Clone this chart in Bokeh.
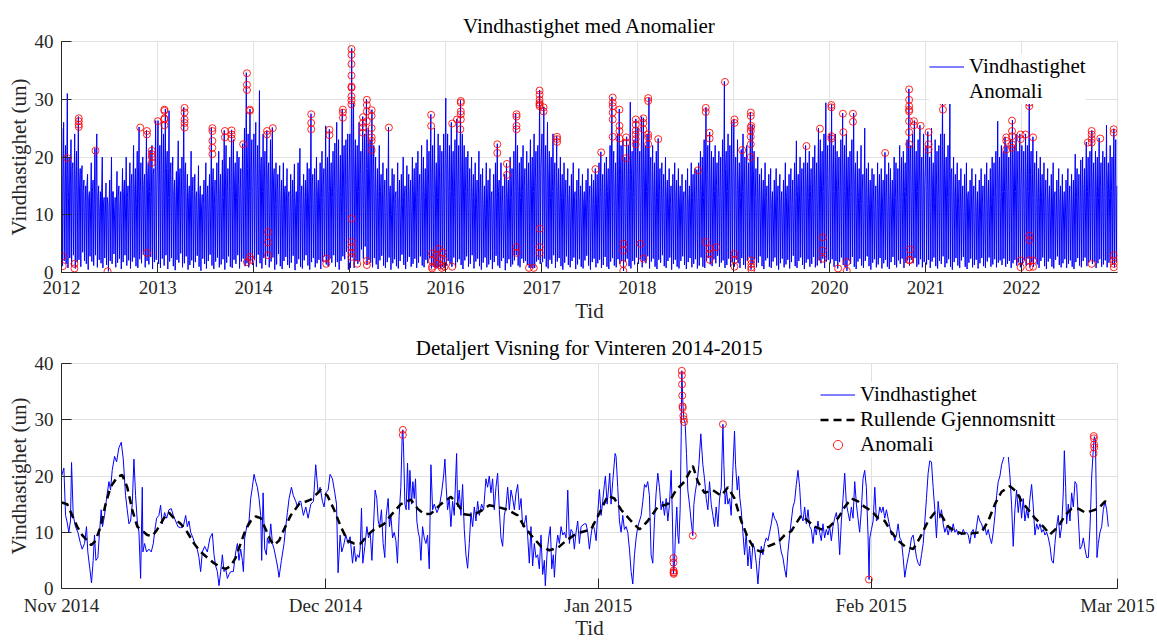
import pandas as pd
from bokeh.plotting import figure
from bokeh.layouts import column
from bokeh.models import (ColumnDataSource, FixedTicker, Legend, LegendItem,
                          DatetimeTickFormatter, Range1d)
from bokeh.embed import file_html
from bokeh.resources import INLINE

FONT = "Liberation Serif"

# ---------------- Top chart data: weekly peak / low / typical level ----------------
years = list(range(2012, 2023))
peak_2012 = [25,26,22,31,20,23,19,24,21,27,18,18.5,16,15,17,14,19,16,21.5,24,15,14,20,13,15.5,12,16,20,14,13,17.5,15,14,18,16,20,15,19,17,22,18,21,25.2,19,20,17,24.6,19,21.2,22,18,26.3]
peak_2013 = [26.3,22,26,24,28.3,21,28,19,20,16,17.5,22.8,18,20,28.6,19,17,15,21,16.5,17,14,18.5,15,13.5,16,19,15,17,25.1,18,16,19,21,17,19.5,24.6,22,18,20,24.7,23,19,21,20,18,22.3,25,34.6,24,28.3,23]
peak_2014 = [24,26,22,31.5,20,24,21,24.6,19,23,25.1,18,19,17,18.5,16,19,15,18,14,17,16,18.8,14,19,21.5,15,17,16,19,18,27.5,17,18,20,16,19,21,18,25.4,20,24.8,19,21,22.4,26,23,20.3,28.3,22,23,24]
peak_2015 = [24,38.8,29.3,23,22,26,21,27,24,30,25,23,28.2,22,20,18,22,17,19,16,18,25.2,15,18,17,14,19,16,17,20,15,18.5,17,16,20,18,19,21,17,22,20,18,23,21,27.4,22,25,19,24,22,21,24]
peak_2016 = [30.2,24,22,26,21,23,26.6,22,29.8,24,22,20,21,18,20,17,19,16,21,17,18,15,19,16,18,14,17,19,22.3,16,19,15,17,18.9,16,20,18,21,27.5,22,19,20,22,18,21,19,23,20,24,21,22,31.6]
peak_2017 = [24,28.7,22,26,21,20,24,19,23.6,18,20,17,19,16,18,15,17,19,14,16,18,15,17,14,16,18,15,17,16,18,17,19,20.9,17,19,20,18,22,30.4,21,19,24,28.3,22,23,20,23.5,22,29.5,21,23,26.6]
peak_2018 = [25,21,27,26.8,22,24,30.3,20,22,19,21,23.2,18,19,17,20,16,18,15,17,19,16,18,15,17,14,16,18,15,19,17,18,17.8,19,21,20,23,28.6,22,24.3,21,20,22,19,21,20,23,33.1,21,24,22,26]
peak_2019 = [26.6,20,23,19,21.3,24,20,22,19,27.8,25.5,21,18,20,17,18,16,19,15,17,18,14,16,18,15,17,14,16,19,15,17,18,16,19,22.8,17,20,18,19,22,19,21,18,20,22,19,25,23,21,24,29.4,22]
peak_2020 = [24,29.1,22,24,21,20,23,27.6,22,24,20,21,23,27.6,19,21,18,22,17,25,18,19,16,18,17,15,19,17,18,16,20.8,17,19,18,16,20,19,18,22,20,21,19,23,31.8,22,24,26.3,21,23,25.5,20,24]
peak_2021 = [22,24.4,20,25,19,23,21,22,24,30.4,24,20,22,31.2,18,20,17,19,16,18,15,17,19,14,16,18,15,17,14,16,18,15,17,19,16,18,20,19,21,26.2,20,22,21,23.5,22,20,23,26.4,22,24,21,24]
peak_2022 = [22,21,24,22,30.3,21,23.5,19,21,18,20,17,19,16,18,15,17,19,14,16,18,15,17,14,16,18,15,17,16,20.5,18,17,19.5,20,18,22.6,20,21,24.6,19,21,20,23.3,19,21,20,25.5,19,22,20,24.9,23]

low_2012 = [1.1,2.0,1.5,0.8,2.5,1.2,3.0,0.7,1.8,2.2,1.0,3.5,2.0,1.5,0.5,2.8,1.9,1.2,3.0,0.9,2.2,1.6,0.8,2.5,1.3,0.2,2.0,1.5,3.2,0.9,1.7,2.4,0.6,1.8,3.0,1.2,2.1,0.7,1.9,2.6,1.1,0.8,2.3,1.6,3.1,0.9,2.0,1.4,2.7,0.6,1.8,2.2]
low_2013 = [1.5,0.8,2.4,1.2,3.0,0.6,1.9,2.5,1.1,0.4,2.2,1.7,3.3,0.9,1.6,2.8,0.5,1.3,2.1,0.8,1.8,2.9,1.0,0.3,2.4,1.5,0.7,2.0,3.1,1.2,0.6,1.9,2.6,0.9,1.4,2.3,0.5,1.7,2.8,1.0,0.8,2.2,1.5,3.0,0.7,1.9,2.4,1.1,1.6,0.9,2.0,1.3]
low_2014 = [2.2,1.0,3.1,1.6,0.7,2.5,1.3,2.8,0.9,1.9,2.6,0.5,1.4,3.2,1.1,0.6,2.0,2.7,1.3,0.8,1.7,2.9,0.4,1.5,2.3,1.0,0.7,2.1,3.0,1.2,0.5,1.8,2.5,0.9,1.6,2.2,0.6,1.9,2.8,1.4,1.1,2.4,1.7,3.0,1.0,1.8,0.5,2.0,2.8,2.3,3.6,0.5]
low_2015 = [0.8,2.6,0.8,2.0,1.5,2.0,4.0,2.4,4.5,1.3,2.2,1.7,0.9,2.5,1.4,0.6,2.1,2.9,1.2,0.8,1.8,2.6,0.5,1.6,2.3,1.1,0.7,2.0,3.1,1.3,0.6,1.9,2.7,1.0,1.5,2.4,0.8,1.7,2.8,1.2,0.9,2.2,1.6,2.5,0.7,1.0,0.8,0.7,0.9,0.7,1.0,0.8]
low_2016 = [1.2,2.0,1.5,1.0,2.6,0.9,1.8,2.3,1.3,0.6,2.1,2.8,1.0,1.5,3.0,0.7,1.9,2.4,1.1,0.5,1.7,2.6,0.9,1.4,2.2,0.6,1.8,2.9,1.2,0.8,2.0,2.5,0.4,1.6,2.3,1.0,1.4,2.1,3.0,1.2,0.9,2.4,1.7,2.0,1.3,0.8,0.8,0.7,0.8,1.9,2.2,1.5]
low_2017 = [1.8,2.4,1.0,0.7,2.2,1.5,3.0,0.8,1.9,2.5,1.1,0.5,1.7,2.8,1.3,0.9,2.0,2.6,0.6,1.4,2.3,1.0,0.7,2.1,2.9,1.2,0.5,1.8,2.4,0.9,1.6,2.2,0.8,1.3,2.7,1.0,0.6,1.9,2.5,1.2,0.9,2.3,1.5,2.0,0.3,1.8,2.4,1.1,0.7,2.0,1.4,2.6]
low_2018 = [1.5,2.3,0.9,2.0,1.6,2.8,0.7,1.9,2.4,1.0,0.6,2.2,1.7,3.0,1.1,0.8,2.0,2.6,0.5,1.5,2.2,1.0,0.7,2.0,2.8,1.3,0.6,1.8,2.5,0.9,1.5,2.3,0.7,1.2,2.6,1.0,0.8,2.0,2.5,1.4,1.1,2.3,1.6,2.9,1.0,1.7,2.1,0.8,1.3,2.4,1.0,1.8]
low_2019 = [1.0,2.2,1.6,0.8,2.5,1.3,0.7,2.0,2.7,0.5,1.5,2.3,0.9,1.7,2.8,1.1,0.6,2.1,2.5,1.0,0.8,1.9,2.6,1.2,0.5,1.6,2.4,0.9,1.4,2.2,0.7,1.8,2.9,1.1,0.8,2.0,2.6,1.3,0.6,1.7,2.3,1.0,1.5,2.7,0.9,1.2,2.1,1.6,2.4,0.8,1.9,2.2]
low_2020 = [1.6,2.3,1.0,2.0,0.7,1.8,2.6,1.3,0.9,0.3,2.1,1.5,2.7,1.0,0.6,1.9,2.4,1.2,0.8,2.0,2.8,1.1,0.5,1.7,2.3,0.9,1.4,2.5,0.7,1.6,2.2,1.0,0.6,1.8,2.7,1.3,0.9,2.1,1.5,2.4,0.8,1.7,2.1,1.2,2.2,1.6,2.5,1.0,1.4,2.3,0.9,1.8]
low_2021 = [1.4,2.2,0.8,1.9,2.6,1.1,0.7,2.0,1.5,2.8,0.9,1.6,2.3,1.0,0.5,1.8,2.5,1.2,0.8,2.1,2.7,1.0,0.6,1.7,2.4,0.9,1.3,2.2,0.7,1.6,2.5,1.1,0.8,1.9,2.6,1.0,1.4,2.3,0.9,1.7,2.1,1.3,2.4,1.0,1.5,2.0,0.8,1.6,2.2,1.2,1.8,0.9]
low_2022 = [1.5,2.1,1.2,2.4,0.9,1.8,1.0,2.3,1.4,0.8,2.0,2.6,1.1,0.6,1.9,2.4,1.0,0.7,2.2,2.8,1.3,0.9,1.6,2.3,0.8,1.5,2.1,1.0,0.6,1.8,2.5,1.2,0.9,2.0,2.6,1.1,1.7,2.2,1.5,1.9,0.8,1.6,2.3,1.0,1.4,2.1,0.9,1.7,2.2,1.3,0.9,1.8]

mid_2012 = [16,14,17,13,15,18,14,16,13,15,17,14,12,15,13,11,14,12,15,13,11,14,12,10,13,11,12,14,10,12,13,11,12,14,11,13,12,15,13,14,12,16,14,13,15,12,16,14,13,17,15,14]
mid_2013 = [15,17,14,16,18,13,17,15,14,12,15,16,13,14,17,12,13,11,14,12,13,10,13,11,12,10,13,12,11,15,12,13,11,14,12,13,15,14,12,15,14,16,13,15,14,13,16,15,18,14,17,15]
mid_2014 = [17,15,16,18,14,16,15,17,13,15,16,12,14,13,12,11,14,12,13,10,12,13,11,12,14,13,11,12,13,11,12,15,12,13,14,12,13,15,13,16,14,15,13,14,16,15,14,13,16,15,14,16]
mid_2015 = [16,19,17,15,14,17,15,16,14,18,15,16,17,14,13,12,14,11,13,12,11,14,10,12,13,11,12,10,12,13,11,12,13,11,14,12,13,15,12,14,13,12,15,14,16,14,15,13,16,14,13,16]
mid_2016 = [18,15,14,16,13,15,16,14,17,15,14,13,14,12,13,11,12,11,14,12,11,10,12,11,13,10,12,13,14,11,12,10,12,13,11,13,12,14,16,14,13,14,15,12,14,13,15,14,16,14,15,18]
mid_2017 = [15,17,14,16,13,14,15,12,14,12,13,11,13,11,12,10,12,13,10,11,12,10,12,11,12,13,10,12,11,12,11,13,14,12,13,14,12,15,17,14,13,16,17,14,15,13,15,14,17,13,15,16]
mid_2018 = [16,14,17,16,14,15,18,13,14,12,13,14,12,13,11,13,11,12,10,12,13,11,12,10,12,11,10,12,11,13,12,13,12,13,14,13,15,17,14,15,13,14,15,13,14,13,15,18,14,15,14,16]
mid_2019 = [16,13,15,13,14,15,13,14,12,17,16,13,12,13,11,12,11,13,10,12,12,10,11,12,10,12,10,11,13,10,12,12,11,13,14,12,13,12,13,14,13,14,12,13,15,13,16,15,14,15,17,14]
mid_2020 = [15,17,14,15,14,13,15,16,14,15,13,14,15,16,12,13,12,14,11,14,12,12,11,12,11,10,13,11,12,11,13,11,12,12,11,13,12,12,14,13,14,13,15,18,14,15,16,14,15,16,13,15]
mid_2021 = [14,15,13,16,12,15,13,14,15,17,15,13,14,17,12,13,11,12,11,12,10,11,13,10,11,12,10,11,10,11,12,10,11,12,11,12,13,12,14,16,13,14,14,15,14,13,15,16,14,15,13,15]
mid_2022 = [14,13,15,14,17,13,15,12,13,12,13,11,12,11,12,10,11,13,10,11,12,10,11,10,11,12,10,11,11,13,12,11,13,13,12,14,13,14,15,13,14,13,15,12,14,13,16,13,14,13,15,15]

peaks_all = [peak_2012, peak_2013, peak_2014, peak_2015, peak_2016, peak_2017,
             peak_2018, peak_2019, peak_2020, peak_2021, peak_2022]
lows_all = [low_2012, low_2013, low_2014, low_2015, low_2016, low_2017,
            low_2018, low_2019, low_2020, low_2021, low_2022]
mids_all = [mid_2012, mid_2013, mid_2014, mid_2015, mid_2016, mid_2017,
            mid_2018, mid_2019, mid_2020, mid_2021, mid_2022]

# anomalies in the full series (decimal year, speed)
anom_year = [2012.014,2012.014,2012.06,2012.135,2012.135,2012.18,2012.18,2012.18,2012.18,2012.354,2012.48,2012.82,2012.89,2012.89,2012.89,2012.94,2012.94,2012.94,2012.94,
             2013.0,2013.07,2013.07,2013.07,2013.07,2013.07,2013.28,2013.28,2013.28,2013.28,2013.28,2013.57,2013.57,2013.57,2013.57,2013.57,2013.70,2013.70,2013.77,2013.77,2013.77,2013.89,2013.93,2013.93,2013.93,2013.93,2013.96,2013.96,2013.96,2013.97,
             2014.14,2014.14,2014.15,2014.15,2014.15,2014.20,2014.60,2014.60,2014.60,2014.757,2014.757,2014.79,2014.79,2014.93,2014.93,2014.93,
             2015.02,2015.02,2015.02,2015.02,2015.02,2015.02,2015.02,2015.02,2015.02,2015.02,2015.02,2015.02,2015.02,2015.02,2015.08,2015.14,2015.14,2015.14,2015.14,2015.18,2015.18,2015.18,2015.18,2015.18,2015.18,2015.23,2015.23,2015.23,2015.23,2015.23,2015.23,2015.41,2015.85,2015.85,2015.86,2015.86,2015.86,2015.86,2015.90,2015.91,2015.93,2015.94,2015.95,2015.96,2015.97,2015.98,2015.99,
             2016.07,2016.07,2016.12,2016.16,2016.16,2016.16,2016.16,2016.16,2016.155,2016.54,2016.54,2016.64,2016.64,2016.74,2016.74,2016.74,2016.74,2016.74,2016.74,2016.87,2016.92,2016.98,2016.98,2016.98,2016.98,2016.98,2016.98,2016.98,2016.98,2016.98,
             2017.02,2017.02,2017.16,2017.16,2017.16,2017.56,2017.62,2017.74,2017.74,2017.74,2017.74,2017.74,2017.74,2017.81,2017.81,2017.81,2017.81,2017.85,2017.85,2017.85,2017.85,2017.88,2017.88,2017.88,2017.98,2017.98,2017.98,2017.98,2017.98,2017.98,
             2018.03,2018.06,2018.06,2018.06,2018.06,2018.11,2018.11,2018.11,2018.11,2018.11,2018.215,2018.63,2018.71,2018.71,2018.71,2018.75,2018.75,2018.75,2018.75,2018.75,2018.82,2018.91,
             2019.01,2019.01,2019.01,2019.01,2019.01,2019.09,2019.18,2019.18,2019.18,2019.18,2019.18,2019.18,2019.18,2019.185,2019.185,2019.185,2019.185,2019.185,2019.76,2019.90,2019.93,2019.93,2019.93,
             2020.02,2020.02,2020.02,2020.02,2020.09,2020.14,2020.145,2020.18,2020.18,2020.245,2020.245,2020.58,2020.83,2020.83,2020.83,2020.83,2020.83,2020.83,2020.83,2020.83,2020.83,2020.84,2020.84,2020.88,2020.88,2020.95,
             2021.03,2021.03,2021.03,2021.18,2021.18,2021.18,2021.18,2021.25,2021.84,2021.84,2021.84,2021.90,2021.90,2021.90,2021.90,2021.90,2021.99,2021.99,2021.99,2021.99,
             2022.04,2022.08,2022.08,2022.08,2022.08,2022.08,2022.08,2022.08,2022.08,2022.12,2022.12,2022.12,2022.69,2022.73,2022.73,2022.73,2022.73,2022.73,2022.82,2022.96,2022.96,2022.96,2022.96,2022.96,2022.96]
anom_speed = [2.8,1.1,19.8,1.5,0.7,26.7,26.2,25.6,25.2,21.1,0.2,25.1,24.5,23.9,3.4,21.1,20.5,20.0,19.0,
              26.2,28.2,28.0,26.7,26.5,25.5,28.5,27.7,26.5,25.9,25.1,25.0,24.5,22.8,21.6,20.5,24.5,23.4,24.6,23.9,23.2,22.2,34.5,32.5,31.6,1.8,28.2,28.0,2.7,2.2,
              24.5,23.9,7.0,5.2,3.0,25.0,27.4,25.9,24.8,2.4,1.5,24.7,23.8,28.2,27.7,26.8,
              38.7,37.7,36.1,34.1,32.2,32.0,30.5,29.8,29.1,9.3,5.3,4.4,3.4,2.7,1.5,26.9,25.9,25.1,24.2,29.9,29.0,27.9,26.2,2.0,1.3,28.1,27.1,25.0,23.4,22.8,21.2,25.1,27.3,25.4,3.3,2.0,1.0,0.7,3.0,1.5,4.1,2.5,1.2,0.8,3.5,2.2,1.0,
              25.8,1.0,26.5,29.7,29.4,27.9,27.4,26.5,24.8,22.2,20.7,18.8,16.9,27.4,27.0,25.4,24.8,4.4,3.4,0.8,0.8,31.5,30.8,29.9,29.4,29.1,28.8,7.6,4.4,3.4,
              28.6,27.9,23.5,23.1,22.6,17.9,20.8,30.3,29.4,28.8,27.7,26.5,23.5,28.2,25.4,24.5,23.2,5.0,3.8,1.5,0.3,23.4,22.5,19.8,26.5,25.6,24.6,23.9,23.1,22.2,
              5.0,26.7,25.9,24.8,2.4,30.2,29.7,23.9,23.4,22.2,23.1,17.7,28.5,27.8,5.3,24.2,23.2,4.1,3.3,2.2,4.4,33.0,
              26.5,25.9,3.2,2.2,1.0,21.2,27.7,27.1,25.1,24.5,23.5,22.2,20.0,25.4,2.1,1.5,0.9,0.5,21.9,24.9,6.1,3.8,2.4,
              29.0,28.6,23.6,23.2,0.7,27.5,24.3,1.8,0.3,27.5,26.1,20.7,31.7,29.9,28.8,28.2,27.9,26.2,24.3,22.2,2.1,4.0,2.2,26.2,25.5,25.4,
              24.3,22.2,21.3,30.3,29.9,29.5,28.2,31.1,23.4,22.8,21.3,26.3,24.5,23.6,22.2,21.6,23.9,23.1,2.1,0.9,
              23.9,30.2,29.9,29.4,28.8,6.4,5.6,2.1,0.9,23.4,2.1,1.0,22.5,24.5,23.9,23.1,22.5,1.5,23.2,24.8,24.2,3.0,2.1,1.5,0.9]

top_ticks = ["2012", "2013", "2014", "2015", "2016", "2017", "2018", "2019", "2020", "2021", "2022"]
y_ticks = [0, 10, 20, 30, 40]

# ---------------- Bottom chart data: winter 2014-2015 (days since 1 Nov 2014) ----------------
detail_day = [0.00,0.27,0.46,0.64,0.83,1.02,1.14,1.33,1.59,1.86,2.16,2.35,2.62,2.84,2.99,3.22,3.41,3.60,3.75,3.91,4.13,4.32,4.51,4.66,4.89,5.12,5.39,5.57,5.76,6.03,6.26,6.52,6.79,7.02,7.28,7.47,7.66,7.85,8.04,8.23,8.42,8.61,8.80,8.99,9.18,9.25,9.44,9.67,9.94,10.20,10.43,10.62,10.81,11.07,11.26,11.45,11.72,11.95,12.21,12.48,12.70,12.97,13.23,13.54,13.84,14.11,14.30,14.49,14.68,14.94,15.24,15.43,15.62,15.81,16.00,16.27,16.57,16.87,17.14,17.33,17.52,17.71,17.90,18.09,18.28,18.47,18.66,18.85,19.04,19.23,19.53,19.80,19.99,20.17,20.36,20.55,20.67,20.82,21.05,21.31,21.50,21.69,21.88,22.07,22.26,22.45,22.64,22.75,22.91,23.09,23.28,23.40,23.59,23.78,23.97,24.16,24.54,24.72,24.99,25.29,25.48,25.67,25.86,26.13,26.35,26.62,26.81,27.00,27.19,27.49,27.76,28.02,28.33,28.63,28.89,29.16,29.39,29.65,29.84,30.03,30.30,30.52,30.79,31.06,31.25,31.43,31.66,31.85,32.04,32.31,32.57,32.80,33.07,33.26,33.44,33.63,33.82,33.94,34.09,34.24,34.47,34.70,34.89,35.08,35.27,35.45,35.64,35.83,35.99,36.14,36.36,36.55,36.74,36.90,37.12,37.27,37.43,37.62,37.81,38.00,38.18,38.37,38.56,38.72,38.79,38.87,39.02,39.17,39.32,39.47,39.59,39.78,39.93,40.08,40.23,40.38,40.54,40.69,40.84,41.03,41.22,41.41,41.60,41.79,41.98,42.17,42.36,42.66,42.93,43.19,43.42,43.57,43.72,43.87,44.06,44.25,44.44,44.63,44.90,45.01,45.20,45.39,45.58,45.77,45.96,46.15,46.34,46.53,46.72,46.91,47.10,47.29,47.48,47.74,47.97,48.23,48.42,48.61,48.80,48.99,49.18,49.37,49.56,49.75,49.94,50.13,50.32,50.51,50.70,50.89,51.08,51.27,51.46,51.65,51.84,52.03,52.22,52.41,52.60,52.79,52.97,53.16,53.35,53.54,53.73,53.92,54.11,54.30,54.49,54.68,54.87,54.98,55.17,55.36,55.55,55.71,55.89,56.01,56.20,56.39,56.58,56.77,56.96,57.15,57.34,57.53,57.72,57.90,58.09,58.28,58.47,58.66,58.85,59.04,59.42,59.61,59.80,59.99,60.18,60.37,60.56,60.75,60.94,61.13,61.32,61.50,61.69,61.81,62.00,62.15,62.30,62.45,62.64,62.91,63.02,63.21,63.40,63.59,63.78,63.97,64.16,64.35,64.54,64.73,64.92,65.11,65.30,65.49,65.68,65.87,66.06,66.25,66.43,66.62,66.81,67.00,67.19,67.38,67.57,67.76,67.95,68.14,68.33,68.52,68.71,68.90,69.09,69.28,69.43,69.54,69.66,69.77,69.92,70.04,70.15,70.30,70.42,70.49,70.61,70.72,70.87,71.02,71.17,71.36,71.55,71.74,71.86,72.01,72.16,72.31,72.43,72.65,72.88,73.07,73.26,73.45,73.64,73.83,74.02,74.21,74.40,74.59,74.78,74.97,75.16,75.27,75.42,75.57,75.73,75.92,76.10,76.29,76.48,76.60,76.79,76.94,77.09,77.24,77.43,77.62,77.81,78.00,78.19,78.38,78.57,78.76,78.95,79.14,79.33,79.52,79.71,79.90,80.09,80.28,80.47,80.66,80.85,81.03,81.22,81.41,81.60,81.79,81.98,82.17,82.36,82.55,82.74,82.93,83.12,83.31,83.50,83.69,83.88,84.07,84.26,84.45,84.64,84.83,85.02,85.21,85.40,85.59,85.77,85.96,86.15,86.34,86.53,86.72,86.91,87.10,87.29,87.48,87.67,87.86,88.05,88.24,88.43,88.62,88.81,89.00,89.19,89.38,89.57,89.76,89.95,90.14,90.33,90.51,90.70,90.89,91.08,91.27,91.46,91.65,91.77,91.85,92.04,92.23,92.42,92.61,92.80,92.99,93.18,93.36,93.55,93.74,93.93,94.12,94.31,94.50,94.69,94.88,95.07,95.26,95.45,95.64,95.83,96.02,96.21,96.40,96.59,96.78,96.97,97.16,97.35,97.54,97.73,97.92,98.11,98.29,98.48,98.67,98.86,99.05,99.24,99.43,99.62,99.81,100.00,100.19,100.38,100.57,100.76,100.95,101.14,101.33,101.52,101.71,101.90,102.09,102.28,102.47,102.66,102.85,103.04,103.22,103.41,103.60,103.79,103.98,104.17,104.36,104.55,104.74,104.93,105.12,105.31,105.50,105.69,105.88,106.07,106.26,106.45,106.64,106.83,107.02,107.21,107.40,107.59,107.78,107.96,108.15,108.34,108.53,108.72,108.91,109.10,109.29,109.48,109.67,109.86,110.05,110.24,110.43,110.62,110.81,111.00,111.19,111.38,111.57,111.76,111.95,112.14,112.33,112.52,112.71,112.89,113.08,113.27,113.46,113.65,113.84,113.96,114.11,114.22,114.41,114.60,114.79,114.98,115.17,115.36,115.55,115.74,115.93,116.12,116.31,116.50,116.69,116.88,117.07,117.26,117.37,117.49,117.60,117.67,117.82,118.01,118.20,118.39,118.58,118.77,118.96]
detail_speed = [20,21.4,13,11.8,10,12,22.4,13,11,10,8,7,8,11,6.5,3.5,1,5,9.5,5,5.5,10,14,11,13,16,19,17.5,21,23.5,22.5,25,26,23,16.5,14,11.5,12,15,23,16.5,12,10,1.8,18,6.5,8,6.5,7,6.5,8,10.5,12.5,13,14.8,11.5,13.5,12.5,14,14.2,13,12,11,10.8,11,13,11,12,10,9,7.5,7,5.5,3,6.5,7.5,6.5,9,9.8,6,4,3,0.5,3,6,3,3.5,1.8,2.5,3,3,6.5,8,5,7,5,3,9,11,12,16,18,20.3,19,18,16,13,5,17,7,6,9,8,11.5,8,7,4,2,5,8,11,13.5,16,18,16.5,15.5,14.5,15.5,15.5,13,14.5,12.5,15,15.5,22,17,18,15.5,14.5,17,17.5,20.3,19.5,17,15,2.8,9.5,6.5,7.5,9.5,8,9.2,4.5,7.5,4.8,6,5.5,7,14.3,4.5,7.5,11,9,10,5,11,17.5,16,12,11,14,8,5.5,13,16,11,13,9,10,8.5,4.5,13,18,27.5,28.2,25,15,14,22.3,14,21,15,19,16,19.5,12,10,9,5,11,9,8,9.5,3.5,22,14,15,13.5,14.5,17,20,23,18,14,16,11,15.5,13,24,14.5,17.5,13,18.5,10.5,6,3.6,8,13.5,11,14.5,12,15.5,13,15,14,19.5,18,20,17,19.5,14,18,20.5,14,9,7.5,13,14.5,18,14,17.5,16,14,17,18.5,14,16,11,11.5,13,9.5,4.5,11,4,8,5.5,6,3.5,9.5,2.5,5,0.5,6,9,11,3.5,6,2,7,9.5,8,11,9.5,10,9,17.5,8,10.5,10,7,10,12,8,11,11.5,11.5,10,7,9.5,11.5,10.5,8.5,13.5,17.6,13,15.5,18.5,20,15,17.5,20.5,15,19,24,23.5,18,12,10,13,10.5,11,10,7,3,0.8,6,9,11,12,13,15.5,18.5,18,19,16.5,6,4.5,12,17,20.5,18,14,15.5,13,16,12,15,21,12,2.6,4.5,10,14.5,9.5,8,14,27,38.7,33,30,29.5,24,17.5,15,12,9.4,15,17,18.5,20,22,27.5,22,19.5,16,14,19,15,13,11,14.5,11,16,18,29.2,22,15,17.5,15,16,13,21,28,22,17.5,20,16,14,10,6,10,4,7.5,3.5,8,7,4.5,0.8,5,7.5,6,8,9,8.5,10,11.5,13.5,12.5,12,11,8.5,6.5,5.5,3.5,2,6.5,9.5,12,14.5,15.5,18.5,21,18,13,12,14.5,11.5,14,11,10.5,8,11,9.5,12,10,8.5,11.5,9,10.5,9.5,11,8.5,11,12.5,13.5,11.5,6,12,16,20.5,15,13.5,12,14.5,12.5,19,15,12.5,10,14,19.5,21,18,9.5,1.6,9,10.5,12,18,12,12.5,14.5,13.5,14.5,12.5,14,12.5,11,9.5,10,8.5,9.5,11.5,9,8.5,5.5,2,4,5.5,7,9,9.5,7.5,5.5,4.5,4,6,8,12,16,20.5,22.7,22.5,18,14,9,15.5,12.5,14,11.5,10,11,9.5,11,10,11.5,10,10.5,9.5,10,9.5,10.5,9.8,10,9.5,8,10,10.5,9,11,13,12,11.5,10.5,11,9.5,10.5,9,8,10,13,16.5,19,20,22,23,23.8,24.5,23.5,20,15,7.5,14,17.5,13.5,16.5,12.5,16,12,14,12.5,16,18.5,14.5,9.5,11.5,10.5,11.5,10,10.5,9.5,10,9,7.5,5,4.5,8,11,13,9,11,17,24.5,18,11.5,15,12,17,14.5,19,18.5,12.5,7,7.5,9,7,5.5,5.5,11,20,25,27,26.5,15,5.5,8,10,11,14,15.5,14,11]

roll_day = [0,0.64,1.21,1.78,2.35,2.92,3.38,3.87,4.44,5.01,5.57,6.33,6.90,7.47,8.04,8.61,8.99,9.75,10.31,10.88,11.64,12.21,12.78,13.54,14.30,15.06,15.81,16.57,17.33,18.09,18.66,19.23,19.80,20.36,20.93,21.50,22.07,22.64,23.21,23.78,24.16,24.72,25.29,26.05,27.00,28.33,29.46,30.22,30.98,31.74,32.50,33.26,34.01,34.77,35.53,36.67,37.43,38.56,39.70,40.46,41.22,41.98,43.11,44.25,45.01,45.77,46.72,47.67,48.61,49.56,50.70,51.84,52.60,53.35,54.49,55.44,56.39,57.34,58.28,59.04,60.18,61.32,62.07,62.83,63.59,64.73,65.68,66.62,67.76,68.90,69.85,70.80,71.74,72.31,73.07,74.02,74.97,75.73,76.48,77.24,78.00,78.76,79.52,80.28,81.41,82.17,82.93,84.07,84.83,85.59,86.34,87.29,88.24,89.00,89.76,90.51,91.27,92.03,92.80,93.55,94.31,95.07,95.83,96.78,97.54,98.48,99.24,100.00,100.76,101.52,102.28,103.41,104.55,105.31,106.07,106.83,107.78,108.53,109.10,109.86,110.62,111.57,112.33,113.27,114.03,114.79,115.55,116.31,117.07,117.82,118.58,119.15]
roll_speed = [15.3,15,13,11,9.5,8.5,7.7,8.5,11,15,18,19.8,20.2,18,14,11,10.5,9.5,9.3,10.5,12.5,13.5,12.5,11.5,10,8,6.5,5.5,4.5,3.8,3.5,4,5.5,8,10.5,12,12.8,12.5,10.5,8.5,7.7,8.5,10.5,13,15,15.8,17.5,16.5,14,11,8.5,8.0,8.0,9.5,10.5,11.5,13,15,15.8,14.2,13.2,13.3,15,16.3,15,13.2,13,13.8,14.8,14.5,14.0,13,11,9.5,7.5,6.8,7.2,8.5,9.5,10,10.5,14,16.5,16,14,12,10.5,12,14.5,15,17.5,19,21.8,19,17,17.5,16.5,18,16,12,9,7,6.5,7.5,8.2,9.5,10.2,13,12,11,10.5,11,12.5,14.5,16,15.5,14.5,13.8,12.5,12,10,8.5,7.5,7.0,9,12,13.5,13,11,10.2,9.8,9.8,10,12,15,17.2,18.2,17.2,15.5,14,12.5,11,9.6,11,13,14.2,14.2,13.5,13.8,14.2,15.5,15.2]

det_anom_day = [38.79,38.79,69.54,69.54,69.56,69.56,69.57,69.57,70.49,70.50,70.52,70.54,70.57,70.59,70.66,70.70,70.74,71.74,75.16,91.75,117.28,117.30,117.32,117.34,117.36]
det_anom_speed = [28.2,27.3,5.4,4.6,3.2,2.9,2.8,2.6,38.7,37.9,36.3,34.3,32.4,32.1,30.7,30.1,29.6,9.4,29.2,1.6,24.0,27.1,26.7,25.6,25.1]

bottom_ticks = ["Nov 2014", "Dec 2014", "Jan 2015", "Feb 2015", "Mar 2015"]

# ---------------- build time values ----------------
t_top, v_top = [], []
for y, pk, lo, md in zip(years, peaks_all, lows_all, mids_all):
    base = pd.Timestamp(f"{y}-01-01")
    for w, (a, b, c) in enumerate(zip(pk, lo, md)):
        t_top.append(base + pd.Timedelta(days=7 * w + 1.2)); v_top.append(a)
        t_top.append(base + pd.Timedelta(days=7 * w + 3.5)); v_top.append(b)
        t_top.append(base + pd.Timedelta(days=7 * w + 5.8)); v_top.append(c)

def dec_year(y):
    yi = int(y)
    return pd.Timestamp(f"{yi}-01-01") + pd.Timedelta(days=(y - yi) * 365.25)

anom_t = [dec_year(y) for y in anom_year]

start = pd.Timestamp("2014-11-01")
det_t = [start + pd.Timedelta(days=d) for d in detail_day]
roll_t = [start + pd.Timedelta(days=d) for d in roll_day]
det_anom_t = [start + pd.Timedelta(days=d) for d in det_anom_day]

def ms(ts):
    return ts.value / 1e6

top_tick_ms = [ms(pd.Timestamp(f"{s}-01-01")) for s in top_ticks]
bottom_tick_ms = [ms(pd.Timestamp("1 " + s)) for s in bottom_ticks]

AX = "#262626"
GRID = "#e1e1e1"

def style(p, xticks, fmt, tick_standoff, label_standoff):
    p.title.align = "center"
    p.title.text_font = FONT
    p.title.text_font_size = "21px"
    p.title.text_font_style = "normal"
    p.title.text_color = "black"
    p.title.standoff = 8
    p.xaxis.ticker = FixedTicker(ticks=xticks)
    p.yaxis.ticker = FixedTicker(ticks=y_ticks)
    p.xaxis.formatter = fmt
    for ax in (p.xaxis[0], p.yaxis[0]):
        ax.axis_line_color = AX
        ax.major_tick_line_color = AX
        ax.minor_tick_line_color = None
        ax.major_tick_in = 10
        ax.major_tick_out = 0
        ax.major_label_text_font = FONT
        ax.major_label_text_font_size = "19px"
        ax.major_label_text_color = AX
        ax.axis_label_text_font = FONT
        ax.axis_label_text_font_size = "21px"
        ax.axis_label_text_font_style = "normal"
        ax.axis_label_text_color = AX
    p.xaxis.major_label_standoff = tick_standoff
    p.xaxis.axis_label_standoff = label_standoff
    p.xaxis.axis_label = "Tid"
    p.yaxis.major_label_standoff = 8
    p.yaxis.axis_label_standoff = 1
    p.yaxis.axis_label = "Vindhastighet (un)"
    p.xgrid.grid_line_color = GRID
    p.ygrid.grid_line_color = GRID
    p.outline_line_color = GRID
    p.background_fill_color = "white"
    p.border_fill_color = "white"

def legend_style(lg):
    lg.border_line_color = None
    lg.background_fill_color = "white"
    lg.background_fill_alpha = 1.0
    lg.label_text_font = FONT
    lg.label_text_font_size = "21px"
    lg.label_text_line_height = 1.0
    lg.label_text_color = "black"
    lg.glyph_width = 35
    lg.glyph_height = 23
    lg.label_height = 23
    lg.spacing = 0
    lg.padding = 3
    lg.margin = 0
    lg.label_standoff = 5

# ---------------- top figure ----------------
x1a, x1b = pd.Timestamp("2012-01-01"), pd.Timestamp("2022-12-31 23:00")
p1 = figure(width=1157, height=327, output_backend="svg", toolbar_location=None,
            x_axis_type="datetime", title="Vindhastighet med Anomalier",
            x_range=Range1d(x1a, x1b), y_range=Range1d(0, 40),
            min_border_left=61, min_border_right=40, min_border_top=41, min_border_bottom=55)
style(p1, top_tick_ms, DatetimeTickFormatter(years="%Y", months="%Y", days="%Y"), 8, 2)

src_top = ColumnDataSource(dict(t=t_top, v=v_top))
r_line1 = p1.line("t", "v", source=src_top, line_color="#0000ff", line_width=1)
src_an = ColumnDataSource(dict(t=anom_t, v=anom_speed))
p1.scatter("t", "v", source=src_an, marker="circle", size=7, fill_color=None,
           line_color="#ff0000", line_width=1, line_alpha=0.85)
r_dummy = p1.scatter(x=[], y=[], marker="circle", size=7, fill_color=None, line_alpha=0)
lg1 = Legend(items=[LegendItem(label="Vindhastighet", renderers=[r_line1]),
                    LegendItem(label="Anomali", renderers=[r_dummy])],
             location=(868, 168))
legend_style(lg1)
p1.add_layout(lg1)

# ---------------- bottom figure ----------------
x2a, x2b = pd.Timestamp("2014-11-01"), pd.Timestamp("2015-03-01")
p2 = figure(width=1157, height=315, output_backend="svg", toolbar_location=None,
            x_axis_type="datetime", title="Detaljert Visning for Vinteren 2014-2015",
            x_range=Range1d(x2a, x2b), y_range=Range1d(0, 40),
            min_border_left=61, min_border_right=40, min_border_top=36, min_border_bottom=47)
style(p2, bottom_tick_ms, DatetimeTickFormatter(years="%b %Y", months="%b %Y", days="%b %Y"), 6, -3)

src_det = ColumnDataSource(dict(t=det_t, v=detail_speed))
r_line2 = p2.line("t", "v", source=src_det, line_color="#0000ff", line_width=1)
src_roll = ColumnDataSource(dict(t=roll_t, v=roll_speed))
r_roll = p2.line("t", "v", source=src_roll, line_color="black", line_width=2.5, line_dash="8 5")
src_dan = ColumnDataSource(dict(t=det_anom_t, v=det_anom_speed))
r_an2 = p2.scatter("t", "v", source=src_dan, marker="circle", size=7, fill_color=None,
                   line_color="#ff0000", line_width=1, line_alpha=0.85)
lg2 = Legend(items=[LegendItem(label="Vindhastighet", renderers=[r_line2]),
                    LegendItem(label="Rullende Gjennomsnitt", renderers=[r_roll]),
                    LegendItem(label="Anomali", renderers=[r_an2])],
             location=(759, 131))
legend_style(lg2)
p2.add_layout(lg2)

layout = column(p1, p2, spacing=0)
open("out.html", "w").write(file_html(layout, INLINE))
